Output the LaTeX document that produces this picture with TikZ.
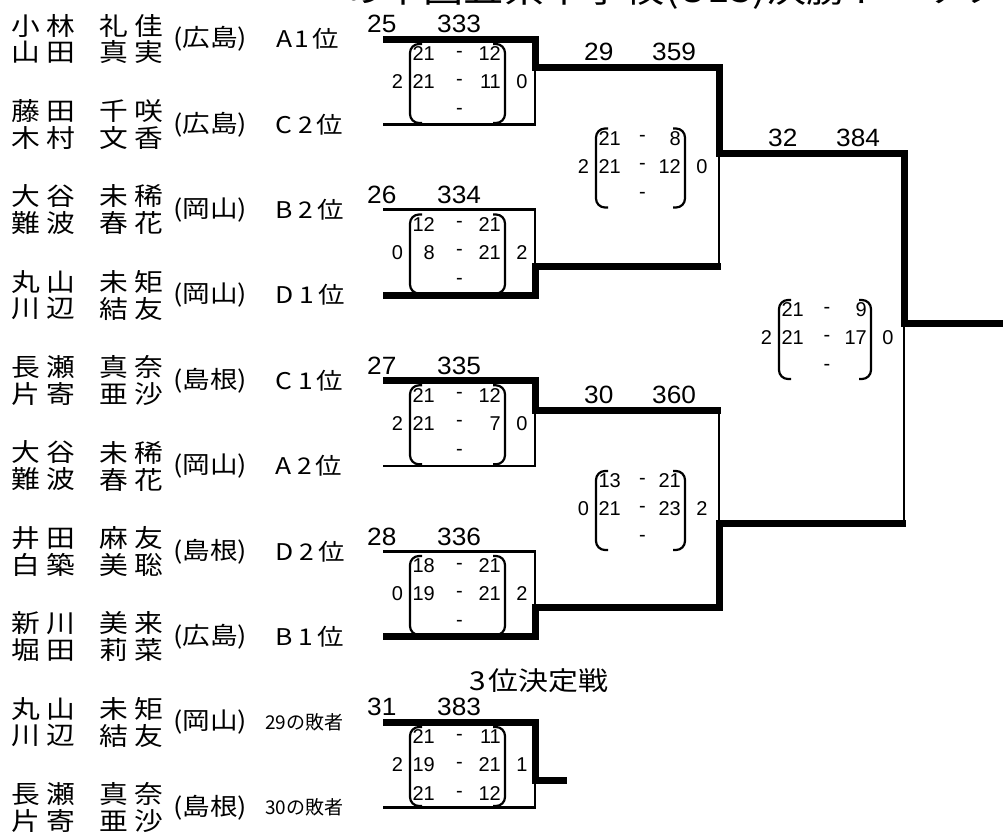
\documentclass[tikz,border=0pt]{standalone}
\usepackage{fontspec}
\setmainfont{Liberation Sans}
\newfontfamily\jp[FakeStretch=1.15]{Noto Sans CJK JP}
\newfontfamily\jpn{Noto Sans CJK JP}
\newfontfamily\lab[FakeStretch=1.05]{Liberation Sans}
\tikzset{
  win/.style={line width=7pt,line join=miter},
  lose/.style={line width=2.8pt,line join=miter},
  brk/.style={line width=2.2pt,rounded corners=9pt},
  nmtxt/.style={anchor=west,inner sep=0pt,font=\jp\fontsize{25pt}{25pt}\selectfont},
  preftxt/.style={anchor=west,inner sep=0pt,font=\jp\fontsize{24pt}{24pt}\selectfont},
  ranktxt/.style={anchor=west,inner sep=0pt,font=\jp\fontsize{23pt}{23pt}\selectfont},
  losetxt/.style={anchor=west,inner sep=0pt,font=\jpn\fontsize{19pt}{19pt}\selectfont},
  lbl/.style={anchor=west,inner sep=0pt,font=\lab\fontsize{25pt}{25pt}\selectfont},
  sc/.style={inner sep=0pt,font=\fontsize{20pt}{20pt}\selectfont},
  ttl/.style={anchor=base west,inner sep=0pt,font=\jp\fontsize{35pt}{35pt}\selectfont},
  sub/.style={anchor=west,inner sep=0pt,font=\jp\fontsize{26pt}{26pt}\selectfont},
}
\newcommand\twochar[2]{\makebox[35pt][l]{#1}#2}
\newcommand\rk[3]{#1\hspace{#3}#2\hspace{4pt}位}
% entry: name, centre y, surname1, surname2, given1, given2, prefecture
\newcommand\entry[7]{%
  \node[nmtxt] (#1a) at (11,#2-13.5) {\twochar#3};
  \node[nmtxt] (#1b) at (11,#2+13.5) {\twochar#4};
  \node[nmtxt] (#1c) at (99,#2-13.5) {\twochar#5};
  \node[nmtxt] (#1d) at (99,#2+13.5) {\twochar#6};
  \node[preftxt] (#1p) at (173,#2) {(#7)};
}
% score box: name, L, R, M, left count, right count
\newcommand\scbox[6]{%
  \draw[brk] (#2+12,#4-38) -- (#2,#4-38) -- (#2,#4+41) -- (#2+12,#4+41);
  \draw[brk] (#3-12,#4-38) -- (#3,#4-38) -- (#3,#4+41) -- (#3-12,#4+41);
  \node[sc] (#1l) at (#2-12.5,#4) {#5};
  \node[sc] (#1r) at (#3+17,#4) {#6};
}
% score row: name, L, R, y, a, b
\newcommand\srow[6]{%
  \node[sc,anchor=east] (#1a) at (#2+25,#4) {#5};
  \node[sc] (#1d) at ({(#2+#3)/2+2},#4) {-};
  \node[sc,anchor=east] (#1b) at (#3-4,#4) {#6};
}
\begin{document}
\begin{tikzpicture}[x=1pt,y=-1pt]
\useasboundingbox (0,0) rectangle (1003,835);
\begin{scope}
\clip (0,0) rectangle (1003,835);
\node[ttl] (title) at (343,2) {の中国五県中学校(U15)決勝トーナメント};
\end{scope}

% entries
\entry{e1}{39}{小林}{山田}{礼佳}{真実}{広島}
\entry{e2}{124.4}{藤田}{木村}{千咲}{文香}{広島}
\entry{e3}{209.8}{大谷}{難波}{未稀}{春花}{岡山}
\entry{e4}{295.2}{丸山}{川辺}{未矩}{結友}{岡山}
\entry{e5}{380.6}{長瀬}{片寄}{真奈}{亜沙}{島根}
\entry{e6}{466}{大谷}{難波}{未稀}{春花}{岡山}
\entry{e7}{551.4}{井田}{白築}{麻友}{美聡}{島根}
\entry{e8}{636.8}{新川}{堀田}{美来}{莉菜}{広島}
\entry{e9}{722.2}{丸山}{川辺}{未矩}{結友}{岡山}
\entry{e10}{807.6}{長瀬}{片寄}{真奈}{亜沙}{島根}
\node[ranktxt] (e1r) at (276,39) {\rk{A}{1}{2pt}};
\node[ranktxt] (e2r) at (275,124.4) {\rk{C}{2}{6pt}};
\node[ranktxt] (e3r) at (275,209.8) {\rk{B}{2}{6pt}};
\node[ranktxt] (e4r) at (275,295.2) {\rk{D}{1}{6pt}};
\node[ranktxt] (e5r) at (275,380.6) {\rk{C}{1}{6pt}};
\node[ranktxt] (e6r) at (275,466) {\rk{A}{2}{6pt}};
\node[ranktxt] (e7r) at (275,551.4) {\rk{D}{2}{6pt}};
\node[ranktxt] (e8r) at (275,636.8) {\rk{B}{1}{6pt}};
\node[losetxt] (e9r) at (265,722.2) {29の敗者};
\node[losetxt] (e10r) at (265,807.6) {30の敗者};

% bracket coordinates
\coordinate (t25) at (383,39);    \coordinate (b25) at (383,124.4); \coordinate (j25) at (535,67);
\coordinate (t26) at (383,209.8); \coordinate (b26) at (383,295.2); \coordinate (j26) at (535,266);
\coordinate (t27) at (383,380.6); \coordinate (b27) at (383,466);   \coordinate (j27) at (535,410);
\coordinate (t28) at (383,551.4); \coordinate (b28) at (383,636.8); \coordinate (j28) at (535,607);
\coordinate (j29) at (719,153); \coordinate (j30) at (719,523);
\coordinate (j32) at (904,323); \coordinate (fin) at (1003,323);
\coordinate (r26) at (720.5,266); \coordinate (k26) at (719,266);
\coordinate (r27) at (720.5,410); \coordinate (k27) at (719,410);
\coordinate (r30) at (905.5,523); \coordinate (k30) at (904,523);
\coordinate (t31) at (383,722.2); \coordinate (b31) at (383,807.6);
\coordinate (j31) at (535,780); \coordinate (o31) at (567,780);

\draw[lose] (b25) -| (j25);
\draw[lose] (t26) -| (j26);
\draw[lose] (k26) -- (j29);
\draw[lose] (b27) -| (j27);
\draw[lose] (k27) -- (j30);
\draw[lose] (t28) -| (j28);
\draw[lose] (k30) -- (j32);
\draw[lose] (b31) -| (j31);
\draw[win] (t25) -| (j25) -| (j29) -| (j32) -- (fin);
\draw[win] (b26) -| (j26) -- (r26);
\draw[win] (t27) -| (j27) -- (r27);
\draw[win] (b28) -| (j28) -| (j30) -- (r30);
\draw[win] (t31) -| (j31) -- (o31);

% match labels
\node[lbl] (n25) at (367,24) {25};  \node[lbl] (m25) at (437,24) {333};
\node[lbl] (n26) at (367,195) {26}; \node[lbl] (m26) at (437,195) {334};
\node[lbl] (n27) at (367,366) {27}; \node[lbl] (m27) at (437,366) {335};
\node[lbl] (n28) at (367,536.5) {28}; \node[lbl] (m28) at (437,536.5) {336};
\node[lbl] (n31) at (367,707) {31}; \node[lbl] (m31) at (437,707) {383};
\node[lbl] (n29) at (584,52) {29};  \node[lbl] (m29) at (652,52) {359};
\node[lbl] (n30) at (584,395) {30}; \node[lbl] (m30) at (652,395) {360};
\node[lbl] (n32) at (768,138) {32}; \node[lbl] (m32) at (836,138) {384};
\node[sub] (third) at (469,681) {3\hspace{3pt}位決定戦};

% score boxes round 1
\scbox{s25}{410}{505}{82}{2}{0}
\srow{s25a}{410}{505}{54}{21}{12}
\srow{s25b}{410}{505}{82}{21}{11}
\srow{s25c}{410}{505}{111}{}{}
\scbox{s26}{410}{505}{252.5}{0}{2}
\srow{s26a}{410}{505}{224.5}{12}{21}
\srow{s26b}{410}{505}{252.5}{8}{21}
\srow{s26c}{410}{505}{281.5}{}{}
\scbox{s27}{410}{505}{423.3}{2}{0}
\srow{s27a}{410}{505}{395.3}{21}{12}
\srow{s27b}{410}{505}{423.3}{21}{7}
\srow{s27c}{410}{505}{452.3}{}{}
\scbox{s28}{410}{505}{594}{0}{2}
\srow{s28a}{410}{505}{566}{18}{21}
\srow{s28b}{410}{505}{594}{19}{21}
\srow{s28c}{410}{505}{623}{}{}
\scbox{s31}{410}{505}{765}{2}{1}
\srow{s31a}{410}{505}{737}{21}{11}
\srow{s31b}{410}{505}{765}{19}{21}
\srow{s31c}{410}{505}{794}{21}{12}
% round 2
\scbox{s29}{596}{685}{166.5}{2}{0}
\srow{s29a}{596}{685}{138.5}{21}{8}
\srow{s29b}{596}{685}{166.5}{21}{12}
\srow{s29c}{596}{685}{195.5}{}{}
\scbox{s30}{596}{685}{509}{0}{2}
\srow{s30a}{596}{685}{481}{13}{21}
\srow{s30b}{596}{685}{509}{21}{23}
\srow{s30c}{596}{685}{538}{}{}
% final
\scbox{s32}{779}{871}{338}{2}{0}
\srow{s32a}{779}{871}{310}{21}{9}
\srow{s32b}{779}{871}{338}{21}{17}
\srow{s32c}{779}{871}{367}{}{}
\end{tikzpicture}
\end{document}
